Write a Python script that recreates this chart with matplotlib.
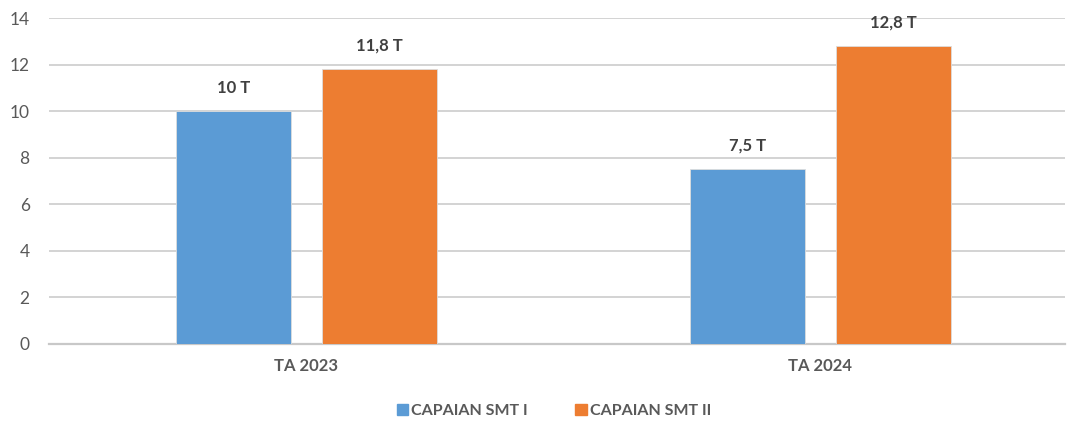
import matplotlib.pyplot as plt
from matplotlib.patches import Patch
import numpy as np

categories = ["TA 2023", "TA 2024"]
smt1 = [10, 7.5]
smt2 = [11.8, 12.8]
labels1 = ["10 T", "7,5 T"]
labels2 = ["11,8 T", "12,8 T"]
series_names = ["CAPAIAN SMT I", "CAPAIAN SMT II"]

plt.rcParams['font.family'] = ['Lato', 'DejaVu Sans']

blue = '#5B9BD5'
orange = '#ED7D31'
grey_txt = '#595959'
lbl_txt = '#404040'

fig = plt.figure(figsize=(10.67, 4.24), dpi=100)
ax = fig.add_axes([0.046, 0.1887, 0.952, 0.7688])

x = np.arange(len(categories))
w = 0.2237
off = 0.142
b1 = ax.bar(x - off, smt1, w, color=blue, edgecolor='#dddddd', linewidth=0.6, zorder=3)
b2 = ax.bar(x + off, smt2, w, color=orange, edgecolor='#dddddd', linewidth=0.6, zorder=3)

for bars, labs in [(b1, labels1), (b2, labels2)]:
    for r, t in zip(bars, labs):
        ax.annotate(t, (r.get_x() + r.get_width() / 2, r.get_height()),
                    xytext=(0, 17), textcoords='offset points',
                    ha='center', va='center', fontsize=12,
                    fontweight='bold', color=lbl_txt)

ax.set_xlim(-0.501, 1.476)
ax.set_ylim(0, 14)
ax.set_yticks(range(0, 15, 2))
ax.set_xticks(x)
ax.set_xticklabels(categories, fontsize=12, fontweight='bold', color=grey_txt)
ax.tick_params(axis='y', labelsize=12.5, colors=grey_txt, length=0, pad=14)
ax.tick_params(axis='x', length=0, pad=10)
ax.yaxis.grid(True, color='#D0D0D0', linewidth=1.3, zorder=0)
ax.set_axisbelow(True)
for s in ['top', 'right', 'left']:
    ax.spines[s].set_visible(False)
ax.spines['bottom'].set_color('#C8C8C8')
ax.spines['bottom'].set_linewidth(1.6)

handles = [Patch(color=blue), Patch(color=orange)]
leg = fig.legend(handles, series_names, loc='center', bbox_to_anchor=(0.519, 0.03),
                 ncol=2, frameon=False, handlelength=0.7, handleheight=0.7,
                 handletextpad=0.2, columnspacing=3.0,
                 prop={'size': 11.5, 'weight': 'bold'})
for t in leg.get_texts():
    t.set_color(grey_txt)

fig.savefig('out.png', dpi=100)
